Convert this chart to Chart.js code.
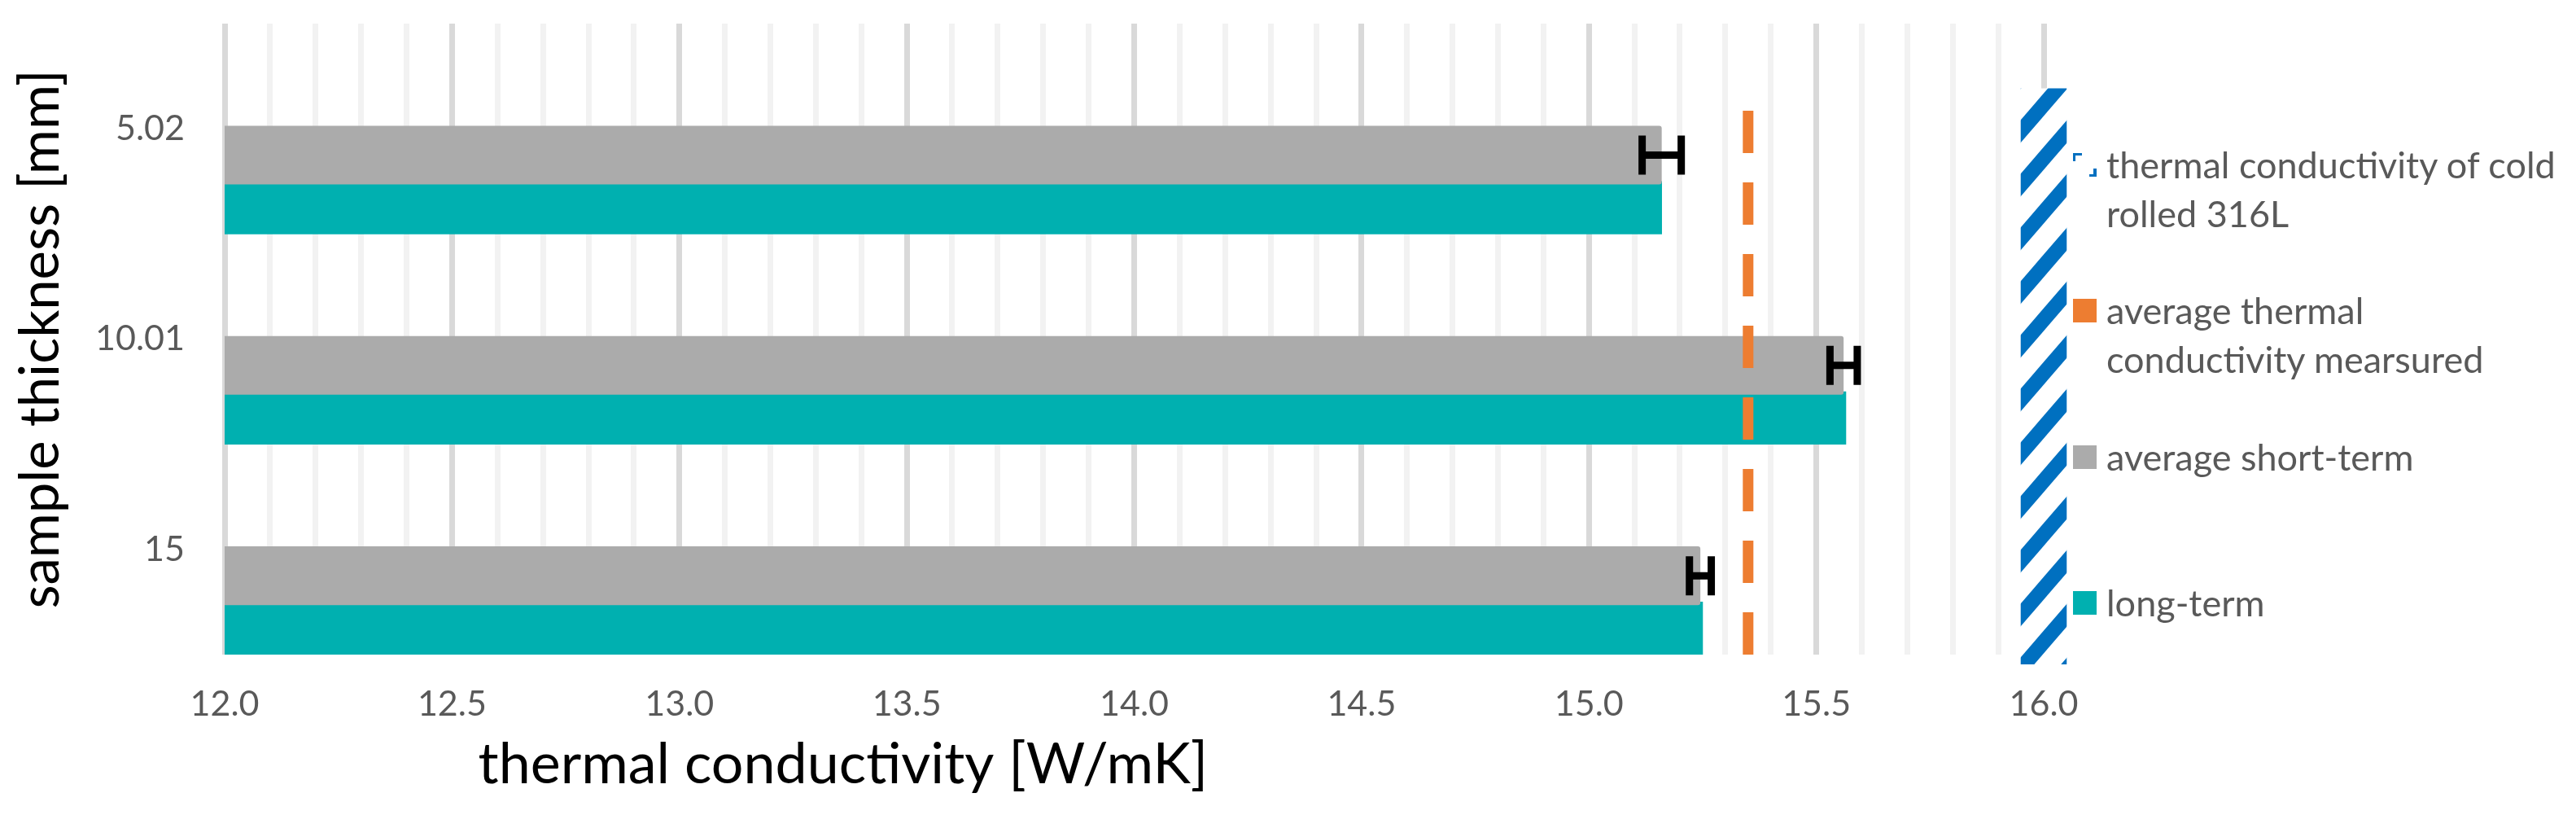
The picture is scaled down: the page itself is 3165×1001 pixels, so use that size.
<!DOCTYPE html>
<html>
<head>
<meta charset="utf-8">
<script src="https://cdn.jsdelivr.net/npm/chart.js@4.4.1/dist/chart.umd.min.js"></script>
<style>
  html, body { margin: 0; padding: 0; background: #fff; }
  #wrap { position: relative; width: 3165px; height: 1001px; }
  #legend { position: absolute; left: 2547px; top: 0; font-family: Lato, sans-serif; font-size: 45px; color: #595959; }
  .item { position: absolute; left: 0; width: 610px; }
  .swatch { position: absolute; left: 0; top: 16px; width: 29px; height: 29px; }
  .swatch.hatch {
    background:
      linear-gradient(#0070C0, #0070C0) 0 0 / 11px 3px no-repeat,
      linear-gradient(#0070C0, #0070C0) 0 0 / 3px 10px no-repeat,
      linear-gradient(#0070C0, #0070C0) 100% 100% / 9px 3px no-repeat,
      linear-gradient(#0070C0, #0070C0) 100% 100% / 4px 10px no-repeat;
  }
  .label { position: absolute; left: 41px; top: 0; line-height: 60px; white-space: nowrap; }
</style>
</head>
<body>
<div id="wrap">
  <canvas id="conductivityChart" width="3165" height="1001"></canvas>
  <div id="legend"></div>
</div>
<script>
// sample thickness categories (mm)
const thicknessLabels = ['5.02', '10.01', '15'];
// thermal conductivity in W/mK
const shortTermAvg = [15.16, 15.56, 15.245];
const shortTermErr = [0.043, 0.03, 0.024];
const longTerm = [15.16, 15.565, 15.25];
const measuredAvg = 15.35;
const coldRolled = 16.0;            // band is one 0.1 step wide around it
// vertical reach of the line and band, on a hidden 0..1 axis
const measuredSpan = [0, 0.863];
const coldRolledSpan = [-0.015, 0.897];
const xMin = 12, xMax = 16, xStep = 0.1;

const seriesNames = [
  ['thermal conductivity of cold', 'rolled 316L'],
  ['average thermal', 'conductivity mearsured'],
  ['average short-term'],
  ['long-term']
];
const xTitle = 'thermal conductivity [W/mK]';
const yTitle = 'sample thickness [mm]';

// each cluster has four slots; the two empty ones belong to the line and band series
const slotShortTerm = 0.125;
const slotLongTerm = 0.375;

const blue = '#0070C0';
const orange = '#ED7D31';
const grey = '#ABABAB';
const teal = '#00B0B0';
const font = 'Lato';

function makeHatch(color) {
  const w = 57, h = 66, t = 24;
  const tile = document.createElement('canvas');
  tile.width = w;
  tile.height = h;
  const c = tile.getContext('2d');
  c.fillStyle = '#fff';
  c.fillRect(0, 0, w, h);
  c.fillStyle = color;
  for (const s of [-w, 0, w]) {
    c.beginPath();
    c.moveTo(s - t / 2, h);
    c.lineTo(s + t / 2, h);
    c.lineTo(s + w + t / 2, 0);
    c.lineTo(s + w - t / 2, 0);
    c.closePath();
    c.fill();
  }
  return c.createPattern(tile, 'repeat');
}

const isHalf = v => Math.abs(v * 2 - Math.round(v * 2)) < 1e-6;

// error bars on the short-term bars
const errorBars = {
  id: 'errorBars',
  afterDatasetsDraw(chart) {
    const meta = chart.getDatasetMeta(2);
    const x = chart.scales.x;
    const ctx = chart.ctx;
    ctx.save();
    ctx.strokeStyle = '#000';
    ctx.lineWidth = 9;
    meta.data.forEach((bar, i) => {
      const x0 = x.getPixelForValue(shortTermAvg[i] - shortTermErr[i]);
      const x1 = x.getPixelForValue(shortTermAvg[i] + shortTermErr[i]);
      const y = bar.y;
      ctx.beginPath();
      ctx.moveTo(x0, y); ctx.lineTo(x1, y);
      ctx.moveTo(x0, y - 24); ctx.lineTo(x0, y + 24);
      ctx.moveTo(x1, y - 24); ctx.lineTo(x1, y + 24);
      ctx.stroke();
    });
    ctx.restore();
  }
};

// x title sits left of centre in the original
const xAxisTitle = {
  id: 'xAxisTitle',
  afterDraw(chart) {
    const { ctx, chartArea } = chart;
    ctx.save();
    ctx.font = '70px ' + font;
    ctx.fillStyle = '#000';
    ctx.textAlign = 'center';
    ctx.textBaseline = 'alphabetic';
    ctx.fillText(xTitle, chartArea.left + 0.34 * (chartArea.right - chartArea.left), chartArea.bottom + 158);
    ctx.restore();
  }
};

const el = document.getElementById('conductivityChart');
new Chart(el, {
  type: 'bar',
  data: {
    datasets: [
      {
        type: 'line', label: seriesNames[1].join(' '),
        data: measuredSpan.map(v => ({ x: measuredAvg, y: v })),
        xAxisID: 'x', yAxisID: 'y2',
        borderColor: orange, borderWidth: 13, borderDash: [52, 36], borderCapStyle: 'butt',
        pointRadius: 0, fill: false
      },
      {
        label: seriesNames[0].join(' '),
        indexAxis: 'x', grouped: false,
        data: [{ x: coldRolled, y: coldRolledSpan }],
        xAxisID: 'xBand', yAxisID: 'y2',
        backgroundColor: makeHatch(blue),
        categoryPercentage: 1, barPercentage: 1, clip: false
      },
      {
        label: seriesNames[2].join(' '), grouped: false,
        data: shortTermAvg.map((v, i) => ({ x: v, y: i + slotShortTerm })),
        backgroundColor: grey, categoryPercentage: 1, barPercentage: 1.115, borderRadius: 3
      },
      {
        label: seriesNames[3].join(' '), grouped: false,
        data: longTerm.map((v, i) => ({ x: v, y: i + slotLongTerm })),
        backgroundColor: teal, categoryPercentage: 1, barPercentage: 1
      }
    ]
  },
  options: {
    indexAxis: 'y',
    responsive: false,
    animation: false,
    layout: { padding: { top: 29, right: 654, left: 0, bottom: 0 } },
    plugins: { legend: { display: false }, tooltip: { enabled: false } },
    scales: {
      x: {
        type: 'linear', position: 'bottom', min: xMin, max: xMax,
        border: { display: false },
        grid: {
          drawTicks: false, lineWidth: 7,
          color: c => isHalf(c.tick.value) ? '#D9D9D9' : '#F2F2F2'
        },
        ticks: {
          stepSize: xStep, autoSkip: false, maxRotation: 0, padding: 35,
          color: '#595959', font: { family: font, size: 43 },
          callback: v => isHalf(v) ? v.toFixed(1) : ''
        },
        afterFit: s => { s.height = 197; }
      },
      y: {
        type: 'linear', position: 'left', reverse: true, offset: false,
        min: -0.5, max: thicknessLabels.length - 0.5,
        border: { display: false },
        grid: { display: false, drawTicks: false, offset: false },
        afterBuildTicks: s => { s.ticks = thicknessLabels.map((t, i) => ({ value: i })); },
        ticks: {
          padding: 49, color: '#595959', font: { family: font, size: 43 },
          callback: v => thicknessLabels[v]
        },
        title: { display: true, text: yTitle, color: '#000', font: { family: font, size: 67 }, padding: { top: 10, bottom: 0 } },
        afterFit: s => { s.width = 276; s.paddingTop = 0; s.paddingBottom = 0; }
      },
      xBand: {
        type: 'linear', position: 'bottom', display: false, offset: false, min: xMin, max: xMax,
        grid: { offset: false },
        ticks: { stepSize: xStep }
      },
      y2: {
        type: 'linear', position: 'left', display: false, offset: false, min: 0, max: 1,
        grid: { offset: false }
      }
    }
  },
  plugins: [errorBars, xAxisTitle]
});

// legend, drawn beside the plot as in the original
const legendSwatch = ['hatch', orange, grey, teal];
const legendEl = document.getElementById('legend');
seriesNames.forEach((lines, i) => {
  const item = document.createElement('div');
  item.className = 'item';
  item.style.top = (172 + i * 179.3) + 'px';
  const sw = document.createElement('div');
  sw.className = 'swatch' + (legendSwatch[i] === 'hatch' ? ' hatch' : '');
  if (legendSwatch[i] !== 'hatch') sw.style.background = legendSwatch[i];
  const txt = document.createElement('div');
  txt.className = 'label';
  txt.innerHTML = lines.join('<br>');
  item.appendChild(sw);
  item.appendChild(txt);
  legendEl.appendChild(item);
});
</script>
</body>
</html>
